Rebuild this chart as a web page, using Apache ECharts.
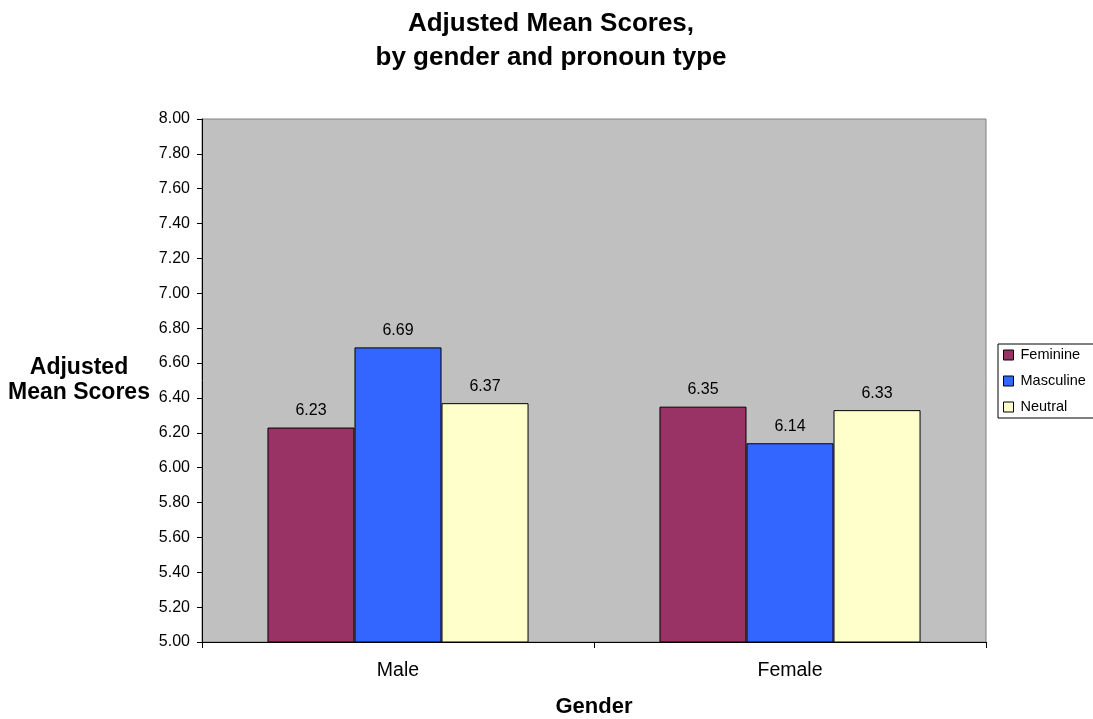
<!DOCTYPE html>
<html>
<head>
<meta charset="utf-8">
<script src="https://cdn.jsdelivr.net/npm/echarts@6/dist/echarts.min.js"></script>
<style>
html, body { margin: 0; padding: 0; background: #fff; overflow: hidden; }
#chart { width: 1093px; height: 719px; }
</style>
</head>
<body>
<div id="chart"></div>
<script>
// Adjusted mean scores by gender and pronoun type
const genders = ['Male', 'Female'];
const feminine = [6.23, 6.35];
const masculine = [6.69, 6.14];
const neutral = [6.37, 6.33];

const font = 'Liberation Sans, Arial, sans-serif';
const chart = echarts.init(document.getElementById('chart'));

function barSeries(name, data, color) {
  return {
    name: name,
    type: 'bar',
    data: data,
    barGap: '0%',
    barCategoryGap: '33.4%',
    itemStyle: { color: color, borderColor: '#000', borderWidth: 1 },
    label: {
      show: true,
      position: 'top',
      distance: 9,
      color: '#000',
      fontFamily: font,
      fontSize: 16,
      formatter: p => p.value.toFixed(2)
    }
  };
}

chart.setOption({
  animation: false,
  backgroundColor: '#fff',
  title: {
    text: 'Adjusted Mean Scores,\nby gender and pronoun type',
    left: 546,
    top: 2,
    textAlign: 'center',
    textStyle: { fontFamily: font, fontSize: 26, fontWeight: 'bold', color: '#000', lineHeight: 34 }
  },
  grid: {
    left: 202, right: 107, top: 119, bottom: 77,
    outerBoundsMode: 'none',
    show: true, backgroundColor: '#C0C0C0', borderColor: '#808080', borderWidth: 1
  },
  legend: {
    orient: 'vertical',
    left: 998,
    top: 344,
    padding: [3, 20, 3, 5],
    itemGap: 10,
    itemWidth: 10,
    itemHeight: 10,
    icon: 'rect',
    borderColor: '#000',
    borderWidth: 1,
    backgroundColor: '#fff',
    textStyle: { fontFamily: font, fontSize: 14.5, color: '#000', lineHeight: 16, padding: [0, 0, 0, 2] },
    itemStyle: { borderColor: '#000', borderWidth: 1 },
    data: ['Feminine', 'Masculine', 'Neutral']
  },
  xAxis: {
    type: 'category',
    data: genders,
    name: 'Gender',
    nameLocation: 'middle',
    nameGap: 54,
    nameTextStyle: { fontFamily: font, fontSize: 22, fontWeight: 'bold', color: '#000' },
    axisLine: { lineStyle: { color: '#000', width: 1 } },
    axisTick: { show: true, length: 6, alignWithLabel: false, lineStyle: { color: '#000' } },
    axisLabel: { fontFamily: font, fontSize: 19.5, color: '#000', margin: 19 }
  },
  yAxis: {
    type: 'value',
    min: 5,
    max: 8,
    interval: 0.2,
    name: 'Adjusted\nMean Scores',
    nameLocation: 'middle',
    nameRotate: 0,
    nameGap: 123,
    nameTextStyle: { fontFamily: font, fontSize: 23, fontWeight: 'bold', color: '#000', lineHeight: 25, align: 'center', padding: [0, 0, 6, 0] },
    axisLine: { show: true, lineStyle: { color: '#000', width: 1 } },
    axisTick: { show: true, length: 5, lineStyle: { color: '#000' } },
    splitLine: { show: false },
    axisLabel: { fontFamily: font, fontSize: 16, color: '#000', margin: 12, formatter: v => v.toFixed(2) }
  },
  series: [
    barSeries('Feminine', feminine, '#993366'),
    barSeries('Masculine', masculine, '#3366FF'),
    barSeries('Neutral', neutral, '#FFFFCC')
  ]
});
</script>
</body>
</html>
